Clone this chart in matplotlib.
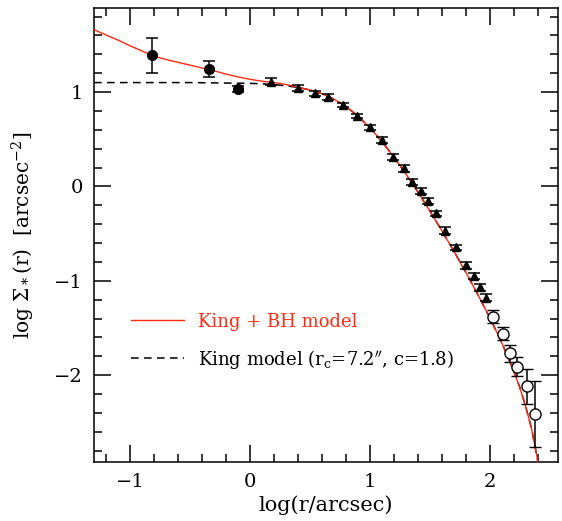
import matplotlib
matplotlib.use("Agg")
import matplotlib.pyplot as plt
from matplotlib.ticker import MultipleLocator

plt.rcParams['font.family'] = ['DejaVu Serif']
plt.rcParams['mathtext.fontset'] = 'dejavuserif'

# filled circles
xc = [-0.82, -0.344, -0.10]
yc = [1.39, 1.24, 1.03]
ec = [0.185, 0.085, 0.03]

# filled triangles
xt = [0.18, 0.40, 0.54, 0.65, 0.78, 0.895, 1.0, 1.10, 1.19, 1.283, 1.356, 1.425,
      1.486, 1.55, 1.63, 1.72, 1.80, 1.867, 1.92, 1.97]
yt = [1.11, 1.04, 0.986, 0.95, 0.862, 0.745, 0.626, 0.49, 0.31, 0.19, 0.049, -0.047,
      -0.156, -0.286, -0.47, -0.647, -0.835, -0.95, -1.07, -1.18]
et = [0.04, 0.03, 0.03, 0.03, 0.025, 0.025, 0.025, 0.03, 0.03, 0.035, 0.03, 0.03,
      0.035, 0.03, 0.035, 0.03, 0.035, 0.03, 0.035, 0.035]

# open circles
xo = [2.03, 2.11, 2.17, 2.23, 2.31, 2.38]
yo = [-1.38, -1.56, -1.77, -1.91, -2.12, -2.41]
eo = [0.07, 0.07, 0.09, 0.1, 0.19, 0.35]

xm = [-1.3, -1.2, -1.1, -1.0, -0.9, -0.8, -0.7, -0.6, -0.5, -0.4, -0.3, -0.2, -0.1,
      0.0, 0.1, 0.2, 0.3, 0.4, 0.5, 0.6, 0.7, 0.8, 0.9, 1.0, 1.1, 1.2, 1.3, 1.4,
      1.5, 1.6, 1.7, 1.8, 1.9, 2.0, 2.05, 2.1, 2.15, 2.2, 2.25, 2.3, 2.35, 2.4, 2.42]
ym = [1.66, 1.605, 1.55, 1.49, 1.435, 1.38, 1.345, 1.315, 1.285, 1.255, 1.225, 1.19, 1.16,
      1.135, 1.115, 1.10, 1.08, 1.052, 1.022, 0.982, 0.925, 0.848, 0.747, 0.623, 0.477,
      0.313, 0.134, -0.057, -0.258, -0.467, -0.683, -0.908, -1.143, -1.39, -1.52,
      -1.656, -1.80, -1.955, -2.125, -2.33, -2.57, -2.90, -3.10]

xk = [-1.3, -1.0, -0.5, 0.0, 0.1, 0.2, 0.3, 0.4, 0.5, 0.6, 0.7, 0.8, 0.9, 1.0, 1.1,
      1.2, 1.3, 1.4, 1.5, 1.6, 1.7, 1.8, 1.9, 2.0, 2.05, 2.1, 2.15, 2.2, 2.25, 2.3,
      2.35, 2.4, 2.42]
yk = [1.10, 1.10, 1.10, 1.092, 1.087, 1.079, 1.066, 1.049, 1.022, 0.982, 0.925, 0.848,
      0.747, 0.623, 0.477, 0.313, 0.134, -0.057, -0.258, -0.467, -0.683, -0.908, -1.143,
      -1.39, -1.52, -1.656, -1.80, -1.955, -2.125, -2.33, -2.57, -2.90, -3.10]

fig = plt.figure(figsize=(5.62, 5.21), dpi=100)
ax = fig.add_axes([0.1673, 0.1133, 0.8256, 0.8713])

ax.plot(xk, yk, color='black', lw=1.1, ls=(0, (5, 3.5)),
        label=r'King model (r$_\mathrm{c}$=7.2$^{\prime\prime}$, c=1.8)', zorder=2)
ax.plot(xm, ym, color='#ff2a10', lw=1.0, label='King + BH model', zorder=3)

ax.errorbar(xc, yc, yerr=ec, fmt='o', color='black', ms=7, capsize=4, elinewidth=1.1,
            capthick=1.1, zorder=4)
ax.errorbar(xt, yt, yerr=et, fmt='^', color='black', ms=6, capsize=4, elinewidth=1.1,
            capthick=1.1, zorder=4)
ax.errorbar(xo, yo, yerr=eo, fmt='o', color='black', mfc='white', ms=8, mew=1.0,
            capsize=4, elinewidth=1.1, capthick=1.1, zorder=4)

ax.set_xlim(-1.3, 2.57)
ax.set_ylim(-2.92, 1.89)

ax.xaxis.set_major_locator(MultipleLocator(1))
ax.xaxis.set_minor_locator(MultipleLocator(0.2))
ax.yaxis.set_major_locator(MultipleLocator(1))
ax.yaxis.set_minor_locator(MultipleLocator(0.2))
ax.tick_params(which='both', direction='in', top=True, right=True, width=1.1,
               labelsize=14, pad=8)
ax.tick_params(which='major', length=12)
ax.tick_params(which='minor', length=6)
for s in ax.spines.values():
    s.set_linewidth(1.1)

ax.xaxis.set_major_formatter(plt.FuncFormatter(lambda v, p: f"{int(round(v))}".replace('-', '\u2212')))
ax.yaxis.set_major_formatter(plt.FuncFormatter(lambda v, p: f"{int(round(v))}".replace('-', '\u2212')))

ax.set_xlabel('log(r/arcsec)', fontsize=15, labelpad=3)
ax.set_ylabel(r'log $\Sigma_*$(r)  [arcsec$^{-2}$]', fontsize=14.5, labelpad=12)

handles, labels = ax.get_legend_handles_labels()
leg = ax.legend(handles[::-1], labels[::-1], loc='upper left', bbox_to_anchor=(0.045, 0.365),
                frameon=False, fontsize=13, handlelength=2.9, handletextpad=0.8,
                labelspacing=0.95)
leg.get_texts()[0].set_color('#ff2a10')

fig.savefig('out.png', dpi=100)
